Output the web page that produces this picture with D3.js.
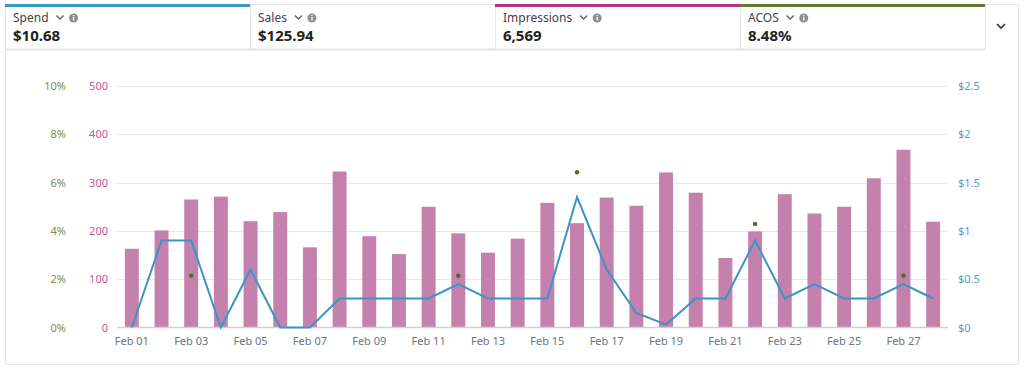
<!DOCTYPE html>
<html>
<head>
<meta charset="utf-8">
<script src="https://cdn.jsdelivr.net/npm/d3@7"></script>
<style>
  body { margin: 0; background: #fff; font-family: "Noto Sans", "Open Sans", sans-serif; }
  svg { display: block; }
</style>
</head>
<body>
<svg id="chart" width="1024" height="369"></svg>
<script>
// metric tabs
const tabNames = ["Spend", "Sales", "Impressions", "ACOS"];
const tabValues = ["$10.68", "$125.94", "6,569", "8.48%"];
const tabColors = ["#3b97c8", null, "#b73482", "#637a2c"];

// daily data
const days = ["Feb 01","Feb 02","Feb 03","Feb 04","Feb 05","Feb 06","Feb 07","Feb 08","Feb 09","Feb 10",
  "Feb 11","Feb 12","Feb 13","Feb 14","Feb 15","Feb 16","Feb 17","Feb 18","Feb 19","Feb 20",
  "Feb 21","Feb 22","Feb 23","Feb 24","Feb 25","Feb 26","Feb 27","Feb 28"];
const impressions = [163,201,265,271,220,239,166,323,189,152,250,195,155,184,258,216,269,252,321,279,
  144,199,276,236,250,309,368,219];
const spend = [0,0.9,0.9,0,0.6,0,0,0.3,0.3,0.3,0.3,0.45,0.3,0.3,0.3,1.35,0.6,0.15,0.03,0.3,
  0.3,0.9,0.3,0.45,0.3,0.3,0.45,0.3];
const acos = [null,null,2.14,null,null,null,null,null,null,null,null,2.14,null,null,null,6.43,null,null,null,null,
  null,4.29,null,null,null,null,2.14,null];

const pctTicks = [0,2,4,6,8,10];
const impTicks = [0,100,200,300,400,500];
const spendTicks = [0,0.5,1,1.5,2,2.5];

const svg = d3.select("#chart");

// ---- header tabs ----
const tabW = 245, tabX0 = 5, tabTop = 4, tabBottom = 49;
svg.append("rect").attr("x", 5.5).attr("y", 4.5).attr("width", 1013).attr("height", 360)
  .attr("fill", "none").attr("stroke", "#e6e6e6");
svg.append("line").attr("x1", 5).attr("x2", 985).attr("y1", tabBottom + 0.5).attr("y2", tabBottom + 0.5)
  .attr("stroke", "#e3e3e3").attr("stroke-width", 2);

const tabs = svg.selectAll(".tab").data(tabNames).enter().append("g")
  .attr("class", "tab")
  .attr("transform", (d, i) => `translate(${tabX0 + i * tabW},0)`);

tabs.filter((d, i) => i > 0).append("line")
  .attr("x1", 0.5).attr("x2", 0.5).attr("y1", tabTop).attr("y2", tabBottom)
  .attr("stroke", "#e6e6e6");
svg.append("line").attr("x1", 985.5).attr("x2", 985.5).attr("y1", tabTop).attr("y2", tabBottom)
  .attr("stroke", "#e6e6e6");

tabs.append("rect")
  .attr("x", 0).attr("y", tabTop).attr("width", tabW).attr("height", 3)
  .attr("fill", (d, i) => tabColors[i] || "none");

tabs.append("text")
  .attr("x", 8).attr("y", 22)
  .attr("font-size", 12).attr("fill", "#444")
  .text(d => d);

tabs.each(function (d) {
  const g = d3.select(this);
  const w = g.select("text").node().getComputedTextLength();
  // chevron
  g.append("path")
    .attr("d", `M${8 + w + 8},15.5 l3.5,3.5 l3.5,-3.5`)
    .attr("fill", "none").attr("stroke", "#666").attr("stroke-width", 1.5);
  // info icon
  g.append("circle").attr("cx", 8 + w + 25).attr("cy", 18).attr("r", 4.5).attr("fill", "#8a8f96");
  g.append("rect").attr("x", 8 + w + 24.4).attr("y", 17).attr("width", 1.3).attr("height", 3.5).attr("fill", "#fff");
  g.append("rect").attr("x", 8 + w + 24.4).attr("y", 15).attr("width", 1.3).attr("height", 1.2).attr("fill", "#fff");
});

tabs.append("text")
  .attr("x", 8).attr("y", 41)
  .attr("font-size", 15).attr("font-weight", "bold").attr("fill", "#222")
  .text((d, i) => tabValues[i]);

svg.append("path")
  .attr("d", "M997,24 l4,4 l4,-4")
  .attr("fill", "none").attr("stroke", "#333").attr("stroke-width", 1.6);

// ---- chart ----
const plot = { left: 117, right: 948, top: 86, bottom: 327.5 };

const x = d3.scaleBand().domain(days).range([plot.left, plot.right]).paddingInner(0.53).paddingOuter(0.265);
const yImp = d3.scaleLinear().domain([0, 500]).range([plot.bottom, plot.top]);
const yPct = d3.scaleLinear().domain([0, 10]).range([plot.bottom, plot.top]);
const ySpend = d3.scaleLinear().domain([0, 2.5]).range([plot.bottom, plot.top]);

// gridlines
svg.append("g").selectAll("line").data(impTicks.slice(1)).enter().append("line")
  .attr("x1", plot.left).attr("x2", plot.right)
  .attr("y1", d => Math.round(yImp(d)) + 0.5).attr("y2", d => Math.round(yImp(d)) + 0.5)
  .attr("stroke", "#e8e8e8");

// left % axis
const pctAxis = svg.append("g").attr("transform", "translate(66,0)")
  .call(d3.axisLeft(yPct).tickValues(pctTicks).tickFormat(d => d + "%").tickSize(0).tickPadding(0));
pctAxis.select(".domain").remove();
pctAxis.selectAll("text").attr("fill", "#7d8f45").attr("font-size", 11).attr("font-family", "Noto Sans");

// impressions axis
const impAxis = svg.append("g").attr("transform", "translate(108,0)")
  .call(d3.axisLeft(yImp).tickValues(impTicks).tickSize(0).tickPadding(0));
impAxis.select(".domain").remove();
impAxis.selectAll("text").attr("fill", "#c0589b").attr("font-size", 11).attr("font-family", "Noto Sans");

// right spend axis
const spendAxis = svg.append("g").attr("transform", "translate(958,0)")
  .call(d3.axisRight(ySpend).tickValues(spendTicks).tickFormat(d => "$" + d).tickSize(0).tickPadding(0));
spendAxis.select(".domain").remove();
spendAxis.selectAll("text").attr("fill", "#4a9fcc").attr("font-size", 11).attr("font-family", "Noto Sans");

// bars
svg.append("g").selectAll("rect").data(impressions).enter().append("rect")
  .attr("x", (d, i) => x(days[i]))
  .attr("width", x.bandwidth())
  .attr("y", d => yImp(d))
  .attr("height", d => plot.bottom - yImp(d))
  .attr("fill", "#c581ae");

// baseline
svg.append("line").attr("x1", plot.left).attr("x2", plot.right)
  .attr("y1", plot.bottom).attr("y2", plot.bottom)
  .attr("stroke", "#d0d0d0").attr("stroke-width", 1.5);

// x axis labels
const xAxis = svg.append("g").attr("transform", `translate(0,${plot.bottom})`)
  .call(d3.axisBottom(x).tickValues(days.filter((d, i) => i % 2 === 0)).tickSize(0).tickPadding(10));
xAxis.select(".domain").remove();
xAxis.selectAll("text").attr("fill", "#6b7585").attr("font-size", 11).attr("font-family", "Noto Sans");

// spend line
const line = d3.line()
  .x((d, i) => x(days[i]) + x.bandwidth() / 2)
  .y(d => ySpend(d));
svg.append("path").datum(spend)
  .attr("d", line)
  .attr("fill", "none").attr("stroke", "#3a94c4").attr("stroke-width", 2);

// acos dots
svg.append("g").selectAll("circle").data(acos.map((v, i) => ({ v, day: days[i] })).filter(d => d.v !== null))
  .enter().append("circle")
  .attr("cx", d => x(d.day) + x.bandwidth() / 2)
  .attr("cy", d => yPct(d.v))
  .attr("r", 2.2)
  .attr("fill", "#56691f");
</script>
</body>
</html>
